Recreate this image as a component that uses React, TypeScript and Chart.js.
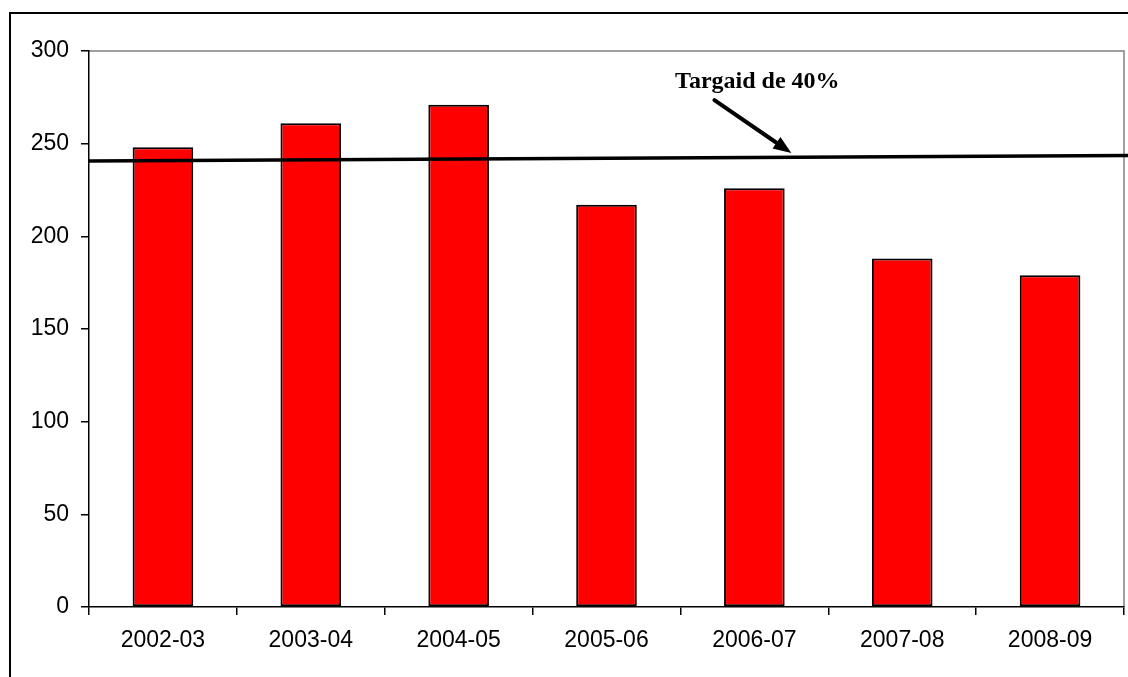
import React, { useEffect, useRef } from "react";
import { Chart, registerables } from "chart.js";

Chart.register(...registerables);

const categories = ["2002-03", "2003-04", "2004-05", "2005-06", "2006-07", "2007-08", "2008-09"];
const values = [248, 261, 271, 217, 226, 188, 179];
const yTicks = [0, 50, 100, 150, 200, 250, 300];
const targetLine = [240.7, 243.6]; // value at left edge, value at right edge of plot
const annotationText = "Targaid de 40%";
const arrowFrom = [3.73, 273.5]; // [category index, value]
const arrowTo = [4.25, 245];
const textAt = [4.02, 280];

const framePlugin = {
  id: "framePlugin",
  beforeDraw(chart: any) {
    const ctx = chart.ctx;
    ctx.save();
    ctx.fillStyle = "#fff";
    ctx.fillRect(0, 0, chart.width, chart.height);
    ctx.strokeStyle = "#000";
    ctx.lineWidth = 2;
    ctx.beginPath();
    ctx.moveTo(10, chart.height + 5);
    ctx.lineTo(10, 13);
    ctx.lineTo(chart.width + 5, 13);
    ctx.stroke();
    const a = chart.chartArea;
    ctx.strokeStyle = "#808080";
    ctx.lineWidth = 1.5;
    ctx.beginPath();
    ctx.moveTo(a.left, a.top);
    ctx.lineTo(a.right, a.top);
    ctx.lineTo(a.right, a.bottom);
    ctx.stroke();
    ctx.restore();
  },
  afterDatasetsDraw(chart: any) {
    const ctx = chart.ctx;
    const a = chart.chartArea;
    const xs = chart.scales.x;
    const ys = chart.scales.y;
    ctx.save();
    // target line
    const y0 = ys.getPixelForValue(targetLine[0]);
    const y1 = ys.getPixelForValue(targetLine[1]);
    const slope = (y1 - y0) / (a.right - a.left);
    const xEnd = chart.width;
    ctx.strokeStyle = "#000";
    ctx.lineWidth = 3.5;
    ctx.beginPath();
    ctx.moveTo(a.left, y0);
    ctx.lineTo(xEnd, y0 + slope * (xEnd - a.left));
    ctx.stroke();
    // arrow
    const fx = xs.getPixelForValue(arrowFrom[0]);
    const fy = ys.getPixelForValue(arrowFrom[1]);
    const tx = xs.getPixelForValue(arrowTo[0]);
    const ty = ys.getPixelForValue(arrowTo[1]);
    const ang = Math.atan2(ty - fy, tx - fx);
    const headLen = 18;
    const headW = 7;
    const bx = tx - headLen * Math.cos(ang);
    const by = ty - headLen * Math.sin(ang);
    ctx.lineWidth = 4;
    ctx.lineCap = "round";
    ctx.beginPath();
    ctx.moveTo(fx, fy);
    ctx.lineTo(bx, by);
    ctx.stroke();
    ctx.fillStyle = "#000";
    ctx.beginPath();
    ctx.moveTo(tx, ty);
    ctx.lineTo(bx + headW * Math.sin(ang), by - headW * Math.cos(ang));
    ctx.lineTo(bx - headW * Math.sin(ang), by + headW * Math.cos(ang));
    ctx.closePath();
    ctx.fill();
    // text
    ctx.font = "bold 24px 'Liberation Serif', 'DejaVu Serif', serif";
    ctx.textAlign = "center";
    ctx.textBaseline = "alphabetic";
    ctx.fillText(annotationText, xs.getPixelForValue(textAt[0]), ys.getPixelForValue(textAt[1]));
    ctx.restore();
  },
};

export default function App() {
  const ref = useRef<HTMLCanvasElement | null>(null);
  useEffect(() => {
    document.body.style.margin = "0";
    if (!ref.current) return;
    const chart = new Chart(ref.current, {
      type: "bar",
      data: {
        labels: categories,
        datasets: [
          {
            data: values,
            backgroundColor: "#ff0000",
            borderColor: "#000000",
            borderWidth: 2,
            borderSkipped: false,
            barPercentage: 0.41,
            categoryPercentage: 1,
          },
        ],
      },
      options: {
        animation: false,
        responsive: false,
        maintainAspectRatio: false,
        devicePixelRatio: 1,
        layout: { padding: { top: 51, right: 4, left: 0, bottom: 0 } },
        plugins: { legend: { display: false }, tooltip: { enabled: false } },
        scales: {
          x: {
            grid: { display: true, drawOnChartArea: false, drawTicks: true, tickLength: 8, color: "#000", lineWidth: 1.5, offset: true },
            border: { color: "#000", width: 1.5 },
            ticks: {
              color: "#000",
              font: { family: "'Liberation Sans', Arial, sans-serif", size: 23 },
              padding: 12,
              maxRotation: 0,
            },
            afterFit: (s: any) => {
              s.height = 70;
            },
          },
          y: {
            min: 0,
            max: 300,
            afterBuildTicks: (s: any) => {
              s.ticks = yTicks.map((v) => ({ value: v }));
            },
            grid: { display: true, drawOnChartArea: false, drawTicks: true, tickLength: 8, color: "#000", lineWidth: 1.5 },
            border: { color: "#000", width: 1.5 },
            ticks: {
              color: "#000",
              font: { family: "'Liberation Sans', Arial, sans-serif", size: 23 },
              padding: 12,
            },
            afterFit: (s: any) => {
              s.width = 89;
            },
          },
        },
      },
      plugins: [framePlugin],
    });
    return () => chart.destroy();
  }, []);
  return <canvas ref={ref} width={1128} height={677} style={{ display: "block" }} />;
}
